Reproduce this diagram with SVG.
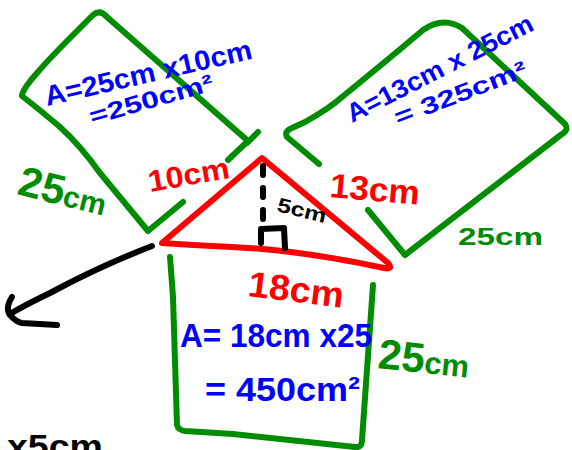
<svg xmlns="http://www.w3.org/2000/svg" width="572" height="450" viewBox="0 0 572 450">
<style>
.g{fill:none;stroke:#008c00;stroke-width:6;stroke-linecap:round;stroke-linejoin:round}
.r{fill:none;stroke:#ff0000;stroke-width:6;stroke-linecap:round;stroke-linejoin:round}
.k{fill:none;stroke:#000;stroke-width:6;stroke-linecap:round;stroke-linejoin:round}
text{font-family:"Liberation Sans","DejaVu Sans",sans-serif;font-weight:bold}
.tb{fill:#0000ff}
.tr{fill:#ff0000}
.tg{fill:#008c00}
.tk{fill:#000}
</style>
<rect width="572" height="450" fill="#fff"/>
<g id="left-rect">
<path class="g" d="M228,160 L248,141 L107,17 Q100,9 93,15 L70,38 Q50,58 37,73 Q22,90 22,96 Q40,110 60,127 Q80,145 100,173 L148,231 L183,202"/>
<path class="g" d="M258,132 L247,143"/>
<text class="tb" font-size="28" transform="translate(47,106) rotate(-13)" textLength="212" lengthAdjust="spacingAndGlyphs">A=25cm x10cm</text>
<text class="tb" font-size="24" transform="translate(92,125) rotate(-16)" textLength="128" lengthAdjust="spacingAndGlyphs">=250cm²</text>
</g>
<g id="right-rect">
<path class="g" d="M319,164 L287,137 Q284,131 292,128 L305,122 Q330,108 342,97 Q390,58 423,30 Q443,16 462,28 L565,124 Q569,130 562,134 L405,255 L368,210"/>
<text class="tb" font-size="26" transform="translate(352,123) rotate(-27)" textLength="206" lengthAdjust="spacingAndGlyphs">A=13cm x 25cm</text>
<text class="tb" font-size="24" transform="translate(398,126) rotate(-21)" textLength="140" lengthAdjust="spacingAndGlyphs">= 325cm²</text>
</g>
<g id="triangle">
<path class="r" d="M162,243 L262,158 L388,263 Q394,270 384,268 Q300,250 232,247 Q190,245 162,243 Z"/>
<path class="k" d="M263,166 L263,224" stroke-dasharray="9,13" stroke-width="5"/>
<path class="k" d="M261,243 L261,229 L284,228 L285,248" stroke-width="5"/>
<text class="tk" font-size="20" transform="translate(276,211) rotate(14)" textLength="50" lengthAdjust="spacingAndGlyphs">5cm</text>
</g>
<g id="bottom-rect">
<path class="g" d="M170,257 L173,297 L177,425 Q178,430 185,431 L233,434 L355,447 Q362,448 362,440 L373,285"/>
<text class="tb" font-size="33" x="180" y="347" textLength="192" lengthAdjust="spacingAndGlyphs">A= 18cm x25</text>
<text class="tb" font-size="33" x="205" y="401" textLength="155" lengthAdjust="spacingAndGlyphs">= 450cm²</text>
</g>
<g id="arrow">
<path class="k" d="M152,246 Q100,266 50,293 Q25,305 10,314"/>
<path class="k" d="M12,297 Q5,308 10,315 Q16,322 22,323 L57,325"/>
</g>
<g id="labels">
<text class="tr" font-size="30" transform="translate(150,192) rotate(-10)" textLength="82" lengthAdjust="spacingAndGlyphs">10cm</text>
<text class="tr" font-size="34" transform="translate(329,197) rotate(5)" textLength="90" lengthAdjust="spacingAndGlyphs">13cm</text>
<text class="tr" font-size="36" transform="translate(247,296) rotate(7)" textLength="96" lengthAdjust="spacingAndGlyphs">18cm</text>
<text class="tg" transform="translate(16,194) rotate(14)"><tspan font-size="42">25</tspan><tspan font-size="30">cm</tspan></text>
<text class="tg" font-size="24" x="458" y="245" textLength="85" lengthAdjust="spacingAndGlyphs">25cm</text>
<text class="tg" transform="translate(377,368) rotate(6)"><tspan font-size="42">25</tspan><tspan font-size="31">cm</tspan></text>
<text class="tk" font-size="34" x="7" y="458" textLength="96" lengthAdjust="spacingAndGlyphs">x5cm</text>
</g>
</svg>
